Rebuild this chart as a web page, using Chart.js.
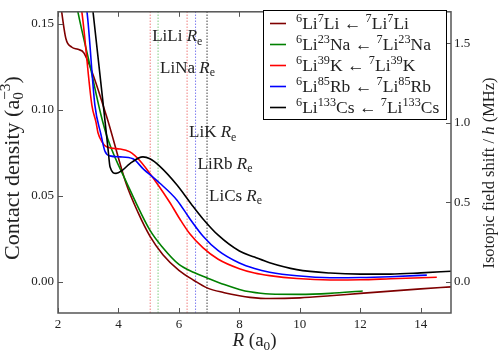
<!DOCTYPE html>
<html>
<head>
<meta charset="utf-8">
<script src="https://cdn.jsdelivr.net/npm/chart.js@4.4.1/dist/chart.umd.min.js"></script>
<style>
  html, body { margin: 0; padding: 0; background: #fff; }
</style>
</head>
<body>
<canvas id="chart" width="498" height="357"></canvas>
<script>
// R in a0, contact density in a0^-3
const liLiR = [2.06, 2.10, 2.26, 2.46, 2.66, 2.86, 3.59, 4.25, 4.65, 5.04, 5.47, 6.00, 6.50, 6.93, 7.50, 8.00, 8.35, 9.00, 10.0, 11.0, 12.0, 13.0, 14.0, 15.0];
const liLiV = [0.166, 0.160, 0.1415, 0.1364, 0.1352, 0.133, 0.0972, 0.0574, 0.0403, 0.0267, 0.0159, 0.0068, 0.0009, -0.0034, -0.0062, -0.0080, -0.0089, -0.0096, -0.0092, -0.0080, -0.0066, -0.0053, -0.0040, -0.0028];

const liNaR = [2.60, 2.66, 3.06, 3.42, 3.65, 4.28, 5.04, 5.47, 6.00, 6.50, 6.93, 7.50, 8.00, 8.35, 9.00, 10.0, 11.0, 12.08];
const liNaV = [0.1625, 0.1568, 0.1256, 0.0972, 0.0830, 0.0574, 0.0301, 0.0199, 0.0102, 0.0055, 0.0024, -0.0015, -0.0043, -0.0057, -0.0070, -0.0072, -0.0066, -0.0052];

const liKR = [2.73, 2.79, 3.12, 3.26, 3.32, 3.46, 3.62, 4.05, 4.38, 4.71, 5.27, 5.70, 6.03, 6.36, 6.80, 7.30, 8.00, 8.50, 9.00, 9.90, 11.0, 12.0, 13.0, 14.53];
const liKV = [0.1625, 0.1568, 0.1028, 0.0926, 0.0869, 0.0813, 0.0784, 0.0773, 0.0756, 0.0705, 0.0574, 0.0462, 0.0366, 0.0280, 0.0198, 0.0132, 0.0077, 0.0052, 0.0037, 0.0020, 0.0012, 0.0013, 0.0019, 0.0028];

const liRbR = [2.89, 2.96, 3.22, 3.42, 3.55, 3.72, 4.05, 4.48, 4.81, 5.37, 5.93, 6.36, 6.80, 7.30, 8.00, 8.50, 9.00, 9.90, 11.0, 12.0, 13.0, 14.20];
const liRbV = [0.1625, 0.1568, 0.1028, 0.0858, 0.0761, 0.0733, 0.0727, 0.0716, 0.0659, 0.0574, 0.0477, 0.0368, 0.0266, 0.0182, 0.0110, 0.0078, 0.0057, 0.0036, 0.0025, 0.0026, 0.0031, 0.0040];

const liCsR = [3.12, 3.16, 3.66, 3.72, 3.92, 4.12, 4.38, 4.81, 5.04, 5.37, 5.93, 6.40, 6.79, 7.30, 8.00, 8.50, 9.00, 9.90, 11.0, 12.0, 13.0, 14.0, 15.0];
const liCsV = [0.1625, 0.1568, 0.0765, 0.0670, 0.0631, 0.0648, 0.0688, 0.0727, 0.0716, 0.0672, 0.0565, 0.0455, 0.0368, 0.0272, 0.0180, 0.0145, 0.0112, 0.0072, 0.0052, 0.0046, 0.0046, 0.0053, 0.0063];

// equilibrium distances
const reNames = ['LiLi', 'LiNa', 'LiK', 'LiRb', 'LiCs'];
const reR = [5.05, 5.31, 6.27, 6.55, 6.93];

const legendLabels = [
  '^{6}Li^{7}Li \u2190 ^{7}Li^{7}Li',
  '^{6}Li^{23}Na \u2190 ^{7}Li^{23}Na',
  '^{6}Li^{39}K \u2190 ^{7}Li^{39}K',
  '^{6}Li^{85}Rb \u2190 ^{7}Li^{85}Rb',
  '^{6}Li^{133}Cs \u2190 ^{7}Li^{133}Cs'
];

const xTicks = [2, 4, 6, 8, 10, 12, 14];
const yTicks = [0.00, 0.05, 0.10, 0.15];
const y2Ticks = [0.0, 0.5, 1.0, 1.5];

// styles / layout
const colors = ['#7f0000', '#008000', '#ff0000', '#0000ff', '#000000'];
const reColors = ['rgba(230,40,40,0.6)', 'rgba(40,170,40,0.6)', 'rgba(230,40,40,0.6)', 'rgba(40,40,230,0.6)', 'rgba(0,0,0,0.75)'];
const reLabelY = [0.1398, 0.1216, 0.0841, 0.0659, 0.0472];
const Y_MIN = -0.018, Y_MAX = 0.157, MHZ = 10.82;
const SERIF = '"Liberation Serif", "Times New Roman", serif';

function pts(xs, ys) { return xs.map((x, i) => ({ x: x, y: ys[i] })); }

function parseRich(s) {
  const out = [];
  let i = 0, buf = '';
  const flush = () => { if (buf) { out.push({ t: buf, k: 'n' }); buf = ''; } };
  while (i < s.length) {
    const c = s[i];
    if ((c === '^' || c === '_' || c === '~') && s[i + 1] === '{') {
      flush();
      const end = s.indexOf('}', i);
      out.push({ t: s.slice(i + 2, end), k: c === '^' ? 'sup' : c === '_' ? 'sub' : 'it' });
      i = end + 1;
    } else { buf += c; i++; }
  }
  flush();
  return out;
}

// draws text with simple super/subscripts and italics
function drawRich(ctx, str, x, y, size, align) {
  const segs = parseRich(str);
  const fontFor = k => (k === 'it' ? 'italic ' : '') + ((k === 'sup' || k === 'sub') ? size * 0.7 : size) + 'px ' + SERIF;
  const pos = [];
  let w = 0, prev = null, subStart = 0, subW = 0;
  segs.forEach(s => {
    ctx.font = fontFor(s.k);
    const sw = ctx.measureText(s.t).width;
    if (s.k === 'sup' && prev && prev.k === 'sub') {
      pos.push(subStart);
      w = subStart + Math.max(subW, sw);
    } else {
      pos.push(w);
      if (s.k === 'sub') { subStart = w; subW = sw; }
      w += sw;
    }
    prev = s;
  });
  const x0 = align === 'center' ? x - w / 2 : align === 'right' ? x - w : x;
  ctx.textAlign = 'left';
  ctx.textBaseline = 'alphabetic';
  segs.forEach((s, i) => {
    ctx.font = fontFor(s.k);
    const dy = s.k === 'sup' ? -size * 0.4 : s.k === 'sub' ? size * 0.2 : 0;
    ctx.fillText(s.t, x0 + pos[i], y + dy);
  });
}

const decorations = {
  id: 'decorations',
  afterDraw(chart) {
    const { ctx, chartArea: a, scales } = chart;
    ctx.save();
    // frame
    ctx.strokeStyle = '#555';
    ctx.lineWidth = 1.5;
    ctx.strokeRect(a.left, a.top, a.right - a.left, a.bottom - a.top);
    // inward ticks
    ctx.lineWidth = 1;
    const seg = (x1, y1, x2, y2) => { ctx.beginPath(); ctx.moveTo(x1, y1); ctx.lineTo(x2, y2); ctx.stroke(); };
    xTicks.forEach(v => {
      const px = Math.round(scales.x.getPixelForValue(v)) + 0.5;
      seg(px, a.bottom, px, a.bottom - 5);
      seg(px, a.top, px, a.top + 5);
    });
    yTicks.forEach(v => {
      const py = Math.round(scales.y.getPixelForValue(v)) + 0.5;
      seg(a.left, py, a.left + 5, py);
    });
    y2Ticks.forEach(v => {
      const py = Math.round(scales.y2.getPixelForValue(v)) + 0.5;
      seg(a.right, py, a.right - 5, py);
    });

    ctx.fillStyle = '#222';
    // R_e labels
    reNames.forEach((n, i) => {
      const px = scales.x.getPixelForValue(reR[i]) + 2;
      const py = scales.y.getPixelForValue(reLabelY[i]);
      drawRich(ctx, n + ' ~{R}_{e}', px, py, 17, 'left');
    });

    // axis titles
    drawRich(ctx, '~{R} (a_{0})', (a.left + a.right) / 2, 346, 19, 'center');
    ctx.save();
    ctx.translate(19, 168);
    ctx.rotate(-Math.PI / 2);
    drawRich(ctx, 'Contact density (a_{0}^{\u22123})', 0, 0, 22, 'center');
    ctx.restore();
    ctx.save();
    ctx.translate(494, 173);
    ctx.rotate(-Math.PI / 2);
    drawRich(ctx, 'Isotopic field shift / ~{h} (MHz)', 0, 0, 16.5, 'center');
    ctx.restore();

    // legend
    const lx = 263.5, ly = 10.5, lw = 183, lh = 109;
    ctx.fillStyle = '#fff';
    ctx.fillRect(lx, ly, lw, lh);
    ctx.strokeStyle = '#000';
    ctx.lineWidth = 1;
    ctx.strokeRect(lx, ly, lw, lh);
    legendLabels.forEach((t, i) => {
      const cy = 23.5 + i * 21;
      ctx.strokeStyle = colors[i];
      ctx.lineWidth = 1.6;
      seg(270, cy, 286, cy);
      ctx.fillStyle = '#222';
      drawRich(ctx, t, 296, cy + 5, 17.5, 'left');
    });
    ctx.restore();
  }
};

const datasets = [];
reR.forEach((r, i) => {
  datasets.push({
    data: [{ x: r, y: Y_MIN }, { x: r, y: Y_MAX }],
    borderColor: reColors[i],
    borderWidth: 1,
    borderDash: [1.5, 1.5],
    pointRadius: 0,
    order: 10
  });
});
const series = [[liLiR, liLiV], [liNaR, liNaV], [liKR, liKV], [liRbR, liRbV], [liCsR, liCsV]];
series.forEach((s, i) => {
  datasets.push({
    data: pts(s[0], s[1]),
    borderColor: colors[i],
    borderWidth: 1.6,
    pointRadius: 0,
    cubicInterpolationMode: 'monotone',
    order: 5 - i
  });
});

new Chart(document.getElementById('chart'), {
  type: 'line',
  data: { datasets: datasets },
  options: {
    responsive: false,
    animation: false,
    devicePixelRatio: 1,
    layout: { padding: { top: 5, right: 0, bottom: 0, left: 0 } },
    plugins: { legend: { display: false }, tooltip: { enabled: false } },
    scales: {
      x: {
        type: 'linear',
        min: 2, max: 15,
        grid: { display: false, drawTicks: false },
        border: { display: false },
        ticks: {
          stepSize: 2, includeBounds: false, padding: 4,
          color: '#222', font: { family: SERIF, size: 13 },
          callback: v => String(v)
        },
        afterFit: s => { s.height = 44; }
      },
      y: {
        position: 'left',
        min: Y_MIN, max: Y_MAX,
        grid: { display: false, drawTicks: false },
        border: { display: false },
        ticks: {
          stepSize: 0.05, includeBounds: false, padding: 4,
          color: '#222', font: { family: SERIF, size: 13 },
          callback: v => v.toFixed(2)
        },
        afterFit: s => { s.width = 58; }
      },
      y2: {
        position: 'right',
        min: Y_MIN * MHZ, max: Y_MAX * MHZ,
        grid: { display: false, drawTicks: false },
        border: { display: false },
        ticks: {
          stepSize: 0.5, includeBounds: false, padding: 3,
          color: '#222', font: { family: SERIF, size: 13 },
          callback: v => v.toFixed(1)
        },
        afterFit: s => { s.width = 47; }
      }
    }
  },
  plugins: [decorations]
});
</script>
</body>
</html>
